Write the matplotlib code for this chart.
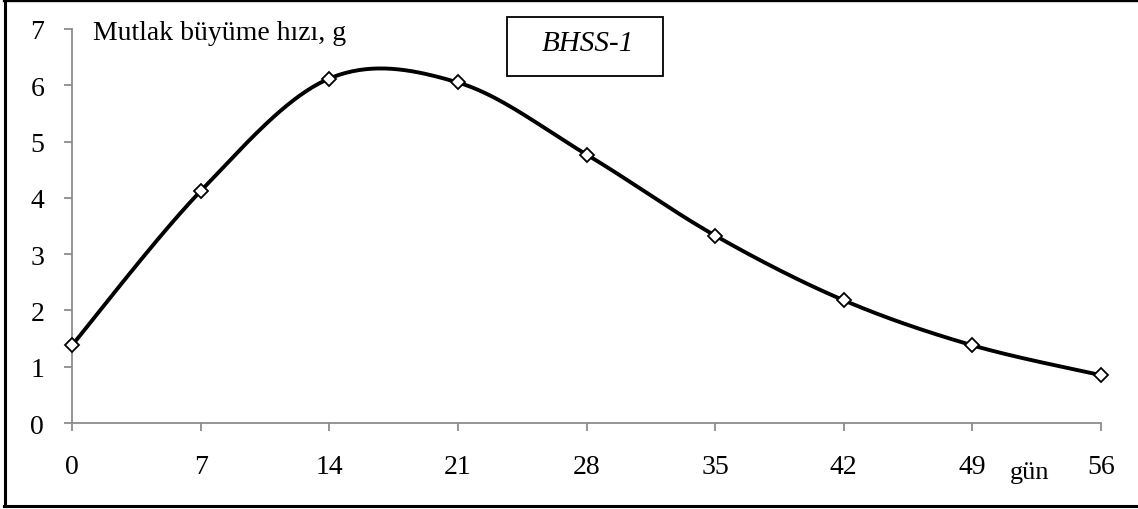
import numpy as np
import matplotlib
matplotlib.use("Agg")
import matplotlib.pyplot as plt
from matplotlib.patches import Rectangle

# Absolute growth rate by age (days)
days = [0, 7, 14, 21, 28, 35, 42, 49, 56]
growth = [1.38, 4.12, 6.12, 6.05, 4.77, 3.33, 2.18, 1.38, 0.85]
y_ticks = [0, 1, 2, 3, 4, 5, 6, 7]
x_label = "gün"
y_label = "Mutlak büyüme hızı, g"
series_name = "BHSS-1"

plt.rcParams['font.family'] = ['Liberation Serif', 'DejaVu Serif']

W, H = 1138, 510
fig = plt.figure(figsize=(W / 100, H / 100), dpi=100)

x0, x1 = 72, 1101
ytop, ybot = 30, 424
ax = fig.add_axes([x0 / W, 1 - ybot / H, (x1 - x0) / W, (ybot - ytop) / H])


def smooth(xs, ys, n=40):
    """Cubic Bezier smoothing through every point (spreadsheet-style)."""
    xs = np.asarray(xs, float)
    ys = np.asarray(ys, float)
    px = np.concatenate([[xs[0]], xs, [xs[-1]]])
    py = np.concatenate([[ys[0]], ys, [ys[-1]]])
    outx, outy = [], []
    t = np.linspace(0, 1, n)
    for i in range(len(xs) - 1):
        p0 = np.array([px[i + 1], py[i + 1]])
        p3 = np.array([px[i + 2], py[i + 2]])
        c1 = p0 + (np.array([px[i + 2], py[i + 2]]) - np.array([px[i], py[i]])) / 6
        c2 = p3 - (np.array([px[i + 3], py[i + 3]]) - np.array([px[i + 1], py[i + 1]])) / 6
        b = ((1 - t) ** 3)[:, None] * p0 + (3 * (1 - t) ** 2 * t)[:, None] * c1 \
            + (3 * (1 - t) * t ** 2)[:, None] * c2 + (t ** 3)[:, None] * p3
        outx.extend(b[:, 0])
        outy.extend(b[:, 1])
    return np.array(outx), np.array(outy)


sx, sy = smooth(days, growth)
ax.plot(sx, sy, color='black', lw=2.8, solid_capstyle='round', zorder=3)
ax.plot(days, growth, linestyle='none', marker='D', markersize=7.5,
        markerfacecolor='white', markeredgecolor='black', markeredgewidth=1.3,
        zorder=4, clip_on=False)

ax.set_xlim(0, 56)
ax.set_ylim(0, 7)
ax.set_xticks(days)
ax.set_yticks(y_ticks)
ax.set_xticklabels([str(d) for d in days])
ax.set_yticklabels([str(v) for v in y_ticks])

for side in ('top', 'right'):
    ax.spines[side].set_visible(False)
for side in ('left', 'bottom'):
    ax.spines[side].set_color('#8c8c8c')
    ax.spines[side].set_linewidth(1.3)
ax.tick_params(axis='both', direction='out', length=6, width=1.3, color='#8c8c8c',
               labelsize=20, labelcolor='black')
ax.tick_params(axis='y', pad=14)
ax.tick_params(axis='x', pad=16)
ax.patch.set_alpha(0)

fig.text(93 / W, 1 - 33 / H, y_label, fontsize=20, ha='left', va='center')
fig.text(1030 / W, 1 - 473 / H, x_label, fontsize=19, ha='center', va='center')

# Series name in a framed box
fig.patches.append(Rectangle((507 / W, 1 - 77 / H), 156 / W, 59 / H,
                             transform=fig.transFigure, fill=False,
                             edgecolor='black', lw=1.3))
fig.text(588 / W, 1 - 44 / H, series_name, fontsize=21, style='italic',
         ha='center', va='center')

# Chart frame (top, left and bottom edges)
fig.add_artist(plt.Line2D([5 / W, 5 / W], [1 - 507 / H, 1 - 1 / H],
                          transform=fig.transFigure, color='black', lw=2.2))
fig.add_artist(plt.Line2D([4 / W, 1], [1 - 1 / H, 1 - 1 / H],
                          transform=fig.transFigure, color='black', lw=2.4))
fig.add_artist(plt.Line2D([4 / W, 1], [1 - 507 / H, 1 - 507 / H],
                          transform=fig.transFigure, color='black', lw=2.2))

fig.savefig("out.png", dpi=100)
